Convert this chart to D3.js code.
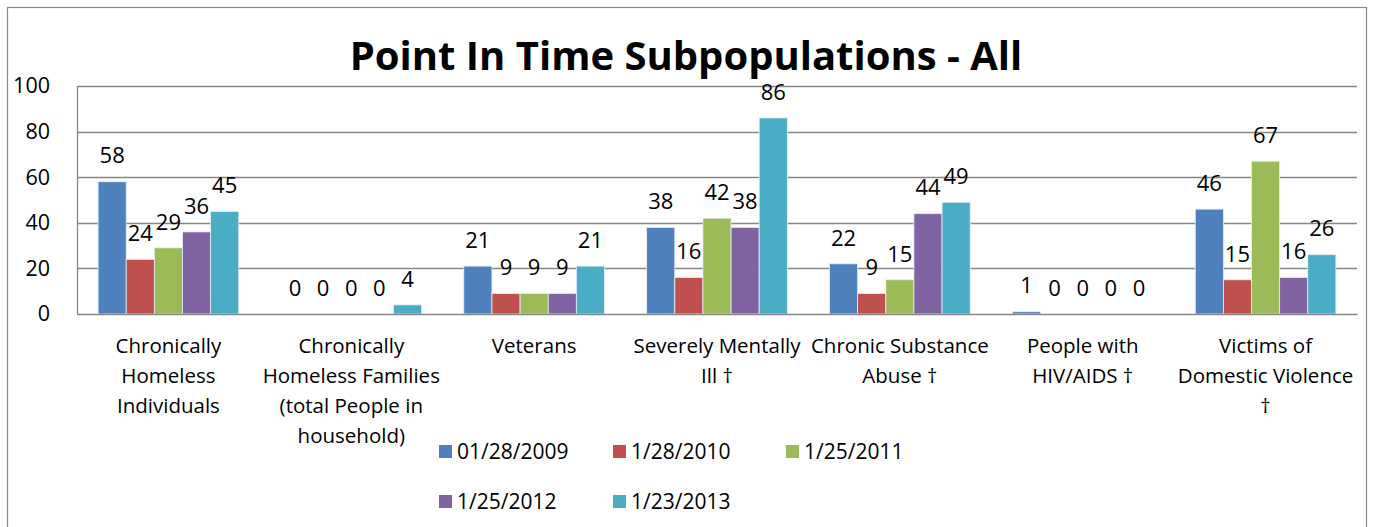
<!DOCTYPE html>
<html><head><meta charset="utf-8">
<script src="https://cdn.jsdelivr.net/npm/d3@7"></script>
<style>body{margin:0;background:#fff}svg{display:block}text{font-family:"Open Sans",sans-serif;fill:#000}</style>
</head><body><svg id="c" width="1373" height="527"></svg>
<script>
const categories = [
  ["Chronically","Homeless","Individuals"],
  ["Chronically","Homeless Families","(total People in","household)"],
  ["Veterans"],
  ["Severely Mentally","Ill †"],
  ["Chronic Substance","Abuse †"],
  ["People with","HIV/AIDS †"],
  ["Victims of","Domestic Violence","†"]
];
const seriesNames = ["01/28/2009","1/28/2010","1/25/2011","1/25/2012","1/23/2013"];
const s2009 = [58,0,21,38,22,1,46];
const s2010 = [24,0,9,16,9,0,15];
const s2011 = [29,0,9,42,15,0,67];
const s2012 = [36,0,9,38,44,0,16];
const s2013 = [45,4,21,86,49,0,26];
const seriesValues = [s2009,s2010,s2011,s2012,s2013];
const colors = ["#4F81BD","#C0504D","#9BBB59","#8064A2","#4BACC6"];
const yTicks = [0,20,40,60,80,100];
const title = "Point In Time Subpopulations - All";

const svg = d3.select("#c");
svg.append("rect").attr("x",7.5).attr("y",7.5).attr("width",1359).attr("height",530)
  .attr("fill","none").attr("stroke","#888").attr("stroke-width",1.2);

const m = {l:77, r:1357, t:86, b:314};
const x0 = d3.scaleBand().domain(d3.range(categories.length)).range([m.l,m.r]).paddingInner(0).paddingOuter(0);
const gap = 1.5;
const bw = x0.bandwidth()/(seriesValues.length+gap);
const x1 = d3.scaleBand().domain(d3.range(seriesValues.length)).range([bw*gap/2, x0.bandwidth()-bw*gap/2]).padding(0);
const y = d3.scaleLinear().domain([0,100]).range([m.b,m.t]);

// gridlines
svg.append("g").selectAll("line").data(yTicks.slice(1)).join("line")
  .attr("x1",m.l).attr("x2",m.r).attr("y1",d=>Math.round(y(d))+0.5).attr("y2",d=>Math.round(y(d))+0.5)
  .attr("stroke","#868686").attr("stroke-width",1.3);

// y axis
const ya = svg.append("g").attr("transform",`translate(${m.l},0)`)
  .call(d3.axisLeft(y).tickValues(yTicks).tickSize(0).tickPadding(27));
ya.select(".domain").attr("stroke","#868686").attr("stroke-width",1.3);
ya.selectAll("text").style("font-size","21.5px").style("font-family","'Open Sans',sans-serif").attr("fill","#000");

// bars
const data = [];
seriesValues.forEach((s,si)=>s.forEach((v,ci)=>data.push({si,ci,v})));
svg.append("g").selectAll("rect").data(data).join("rect")
  .attr("x",d=>x0(d.ci)+x1(d.si)).attr("width",x1.bandwidth())
  .attr("y",d=>y(d.v)).attr("height",d=>y(0)-y(d.v))
  .attr("fill",d=>colors[d.si]).attr("stroke",d=>d.v>0?"#e6eef8":"none").attr("stroke-width",0.8);

// x axis
const xa = svg.append("g").attr("transform",`translate(0,${m.b})`)
  .call(d3.axisBottom(x0).tickSize(0).tickFormat(""));
xa.select(".domain").attr("stroke","#868686").attr("stroke-width",1.3);
xa.selectAll(".tick").each(function(d){
  const t = d3.select(this).append("text").attr("fill","#000").attr("text-anchor","middle")
    .style("font-size","20.5px").style("font-family","'Open Sans',sans-serif");
  categories[d].forEach((line,i)=>t.append("tspan").attr("x",0).attr("y",39+i*30).text(line));
});

// data labels
svg.append("g").selectAll("text").data(data).join("text")
  .attr("x",d=>x0(d.ci)+x1(d.si)+x1.bandwidth()/2).attr("y",d=>y(d.v)-26)
  .attr("dy","0.35em").attr("text-anchor","middle").style("font-size","22px").text(d=>d.v);

// title
svg.append("text").attr("x",686).attr("y",70).attr("text-anchor","middle")
  .style("font-size","40px").style("font-weight","bold").text(title);

// legend
const lx = [439,613,786], ly=[452,502];
const lg = svg.append("g").selectAll("g").data(seriesNames).join("g")
  .attr("transform",(d,i)=>`translate(${lx[i%3]},${ly[Math.floor(i/3)]})`);
lg.append("rect").attr("x",0).attr("y",-7).attr("width",13).attr("height",13).attr("fill",(d,i)=>colors[i]);
lg.append("text").attr("x",18).attr("dy","0.35em").style("font-size","21px").text(d=>d);
</script></body></html>
